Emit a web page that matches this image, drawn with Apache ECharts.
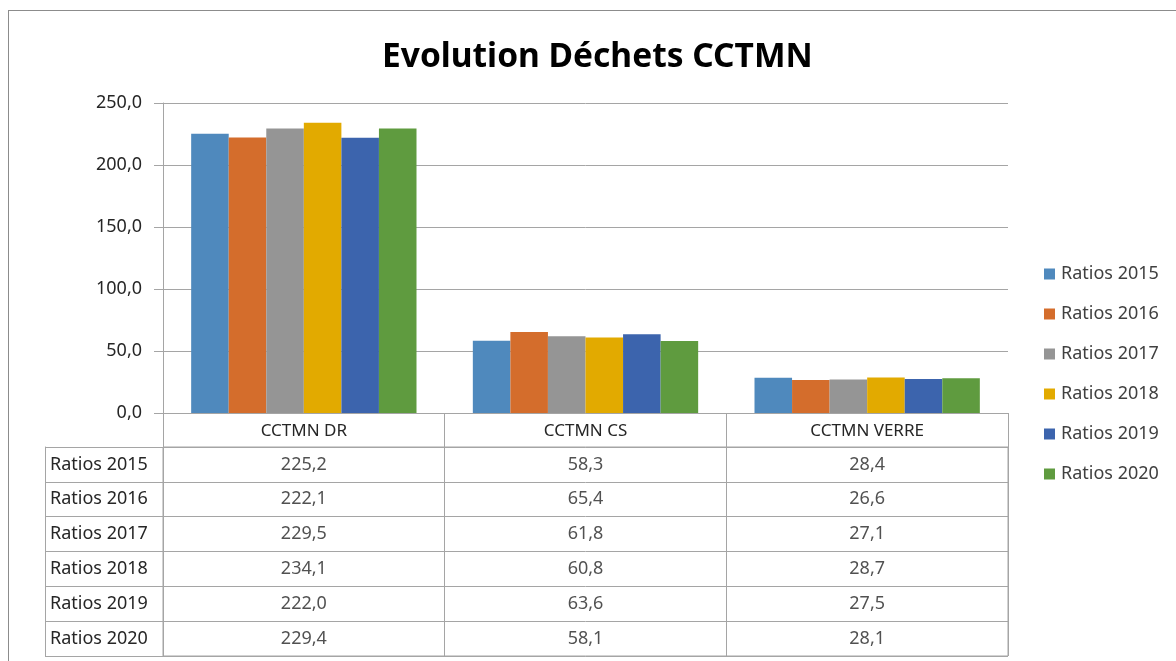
<!DOCTYPE html>
<html>
<head>
<meta charset="utf-8">
<title>Evolution Déchets CCTMN</title>
<script src="https://cdn.jsdelivr.net/npm/echarts@6/dist/echarts.min.js"></script>
<style>
  html, body { margin: 0; padding: 0; background: #ffffff; }
  #wrap { position: relative; width: 1176px; height: 661px; overflow: hidden; }
  #chart { width: 1176px; height: 661px; }
  /* cadre du graphique Excel */
  #frame {
    position: absolute; left: 8px; top: 10px; width: 1200px; height: 700px;
    border: 1px solid #8c8c8c; pointer-events: none; box-sizing: border-box;
  }
</style>
</head>
<body>
<div id="wrap">
  <div id="chart"></div>
  <div id="frame"></div>
</div>
<script>
  // données
  var categories = ['CCTMN DR', 'CCTMN CS', 'CCTMN VERRE'];
  var seriesNames = ['Ratios 2015', 'Ratios 2016', 'Ratios 2017', 'Ratios 2018', 'Ratios 2019', 'Ratios 2020'];
  var ratios2015 = [225.2, 58.3, 28.4];
  var ratios2016 = [222.1, 65.4, 26.6];
  var ratios2017 = [229.5, 61.8, 27.1];
  var ratios2018 = [234.1, 60.8, 28.7];
  var ratios2019 = [222.0, 63.6, 27.5];
  var ratios2020 = [229.4, 58.1, 28.1];
  var yTicks = [0, 50, 100, 150, 200, 250];

  var allValues = [ratios2015, ratios2016, ratios2017, ratios2018, ratios2019, ratios2020];
  var colors = ['#4F89BD', '#D46D2C', '#959595', '#E2AA00', '#3C64AD', '#5F9B3F'];
  var lineColor = '#A5A5A5';
  var font = 'Noto Sans';

  function fr(v) {
    return v.toFixed(1).replace('.', ',');
  }

  var series = [];
  for (var i = 0; i < seriesNames.length; i++) {
    series.push({
      name: seriesNames[i],
      type: 'bar',
      xAxisIndex: 0,
      yAxisIndex: 0,
      barGap: '0%',
      barCategoryGap: '20%',
      itemStyle: { color: colors[i] },
      data: allValues[i]
    });
  }

  // tableau de données sous le graphique
  var tableData = [];
  for (var r = 0; r < seriesNames.length; r++) {
    for (var c = 0; c < categories.length; c++) {
      tableData.push([categories[c], seriesNames[r], allValues[r][c]]);
    }
  }
  series.push({
    name: 'table',
    type: 'scatter',
    xAxisIndex: 1,
    yAxisIndex: 1,
    symbolSize: 1,
    silent: true,
    itemStyle: { color: 'rgba(0,0,0,0)' },
    label: {
      show: true,
      position: 'inside',
      fontSize: 18,
      fontFamily: font,
      color: '#262626',
      formatter: function (p) { return fr(p.value[2]); }
    },
    data: tableData
  });

  var chart = echarts.init(document.getElementById('chart'));
  chart.setOption({
    animation: false,
    textStyle: { fontFamily: font },
    title: {
      text: 'Evolution Déchets CCTMN',
      left: 377,
      top: 35,
      textStyle: { fontSize: 33.5, fontWeight: 'bold', color: '#000000', fontFamily: font }
    },
    legend: {
      orient: 'vertical',
      left: 1044,
      top: 265,
      padding: 0,
      icon: 'rect',
      itemWidth: 11,
      itemHeight: 11,
      itemGap: 22,
      data: seriesNames,
      textStyle: { fontSize: 18, color: '#404040', fontFamily: font, padding: [0, 0, 0, 1] }
    },
    grid: [
      { left: 163, right: 168, top: 103, bottom: 248 },
      { left: 163, right: 168, top: 447, bottom: 5, show: true, borderColor: lineColor, borderWidth: 1 }
    ],
    xAxis: [
      {
        type: 'category',
        gridIndex: 0,
        data: categories,
        axisLine: { lineStyle: { color: lineColor } },
        axisTick: { show: true, length: 34, interval: 0, lineStyle: { color: lineColor } },
        axisLabel: { fontSize: 17, color: '#262626', margin: 10, interval: 0 }
      },
      {
        type: 'category',
        gridIndex: 1,
        data: categories,
        axisLine: { show: false },
        axisTick: { show: false },
        axisLabel: { show: false },
        splitLine: { show: true, interval: 0, lineStyle: { color: lineColor } }
      }
    ],
    yAxis: [
      {
        type: 'value',
        gridIndex: 0,
        min: yTicks[0],
        max: yTicks[yTicks.length - 1],
        interval: 50,
        axisLine: { show: true, lineStyle: { color: lineColor } },
        axisTick: { show: true, length: 9, lineStyle: { color: lineColor } },
        axisLabel: { fontSize: 18, color: '#262626', margin: 21, formatter: function (v) { return fr(v); } },
        splitLine: { lineStyle: { color: lineColor } }
      },
      {
        type: 'category',
        gridIndex: 1,
        data: seriesNames,
        inverse: true,
        axisLine: { show: true, lineStyle: { color: lineColor } },
        axisTick: { show: true, length: 118, interval: 0, lineStyle: { color: lineColor } },
        axisLabel: { fontSize: 18, color: '#262626', align: 'left', margin: 113, interval: 0 },
        splitLine: { show: true, interval: 0, lineStyle: { color: lineColor } }
      },
      {
        type: 'category',
        gridIndex: 1,
        data: seriesNames,
        inverse: true,
        position: 'left',
        offset: 118,
        axisLine: { show: true, lineStyle: { color: lineColor } },
        axisTick: { show: false },
        axisLabel: { show: false }
      }
    ],
    series: series
  });
</script>
</body>
</html>
